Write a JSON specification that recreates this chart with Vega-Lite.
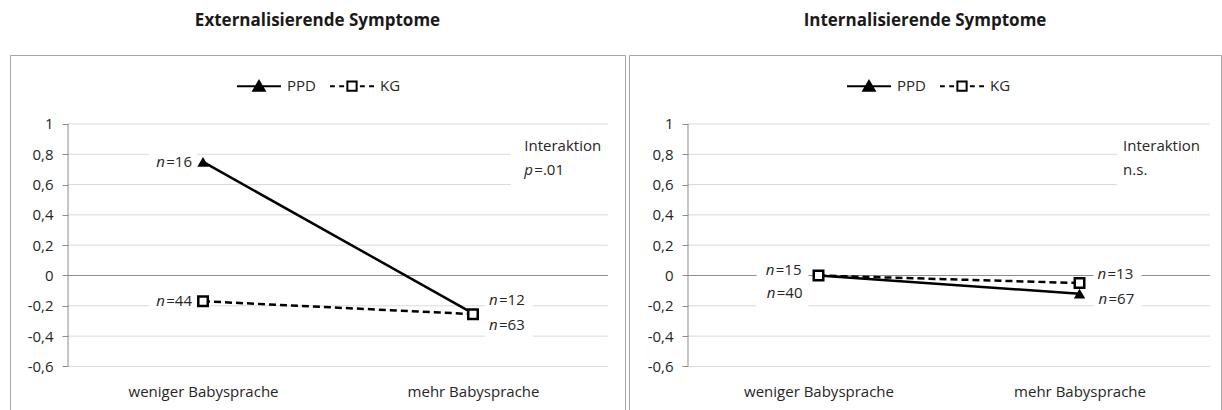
{
  "$schema": "https://vega.github.io/schema/vega-lite/v6.json",
  "background": "white",
  "padding": {"left": 9, "top": 11, "right": 0, "bottom": 0},
  "spacing": 4,
  "bounds": "flush",
  "config": {
    "font": "Open Sans",
    "view": {"stroke": "#a6a6a6", "strokeWidth": 1},
    "title": {"fontSize": 17, "fontWeight": "bold", "color": "#1a1a1a", "anchor": "middle", "offset": 25, "font": "Open Sans"},
    "axis": {"labelFont": "Open Sans", "labelFontSize": 15, "labelColor": "#262626"},
    "text": {"font": "Open Sans", "fontSize": 15, "color": "#262626"}
  },
  "datasets": {
    "ext": [
      {"grp": "PPD", "cat": 1, "value": 0.75, "lab": "=16"},
      {"grp": "PPD", "cat": 2, "value": -0.25, "lab": "=12"},
      {"grp": "KG", "cat": 1, "value": -0.17, "lab": "=44"},
      {"grp": "KG", "cat": 2, "value": -0.255, "lab": "=63"}
    ],
    "int": [
      {"grp": "PPD", "cat": 1, "value": 0.0, "lab": "=15"},
      {"grp": "PPD", "cat": 2, "value": -0.12, "lab": "=13"},
      {"grp": "KG", "cat": 1, "value": 0.0, "lab": "=40"},
      {"grp": "KG", "cat": 2, "value": -0.05, "lab": "=67"}
    ],
    "grid": [
      {"value": 1}, {"value": 0.8}, {"value": 0.6}, {"value": 0.4},
      {"value": 0.2}, {"value": -0.2}, {"value": -0.4}, {"value": -0.6}
    ]
  },
  "resolve": {
    "scale": {"x": "independent", "y": "independent", "shape": "independent", "fill": "independent"},
    "legend": {"shape": "independent", "fill": "independent"}
  },
  "hconcat": [
    {
      "title": "Externalisierende Symptome",
      "width": 615,
      "height": 359,
      "layer": [
        {"data": {"name": "grid"}, "mark": {"type": "rule", "color": "#d9d9d9", "strokeWidth": 1},
          "encoding": {"y": {"field": "value", "type": "quantitative", "title": null, "scale": {"domain": [-0.914, 1.455], "nice": false, "zero": false}}, "x": {"datum": 0.5, "title": null, "scale": {"domain": [0.285, 2.563], "nice": false, "zero": false}}, "x2": {"datum": 2.5}}},
        {"data": {"values": [{}]}, "mark": {"type": "rule", "color": "#8c8c8c", "strokeWidth": 1},
          "encoding": {"y": {"datum": 0, "title": null, "scale": {"domain": [-0.914, 1.455], "nice": false, "zero": false}}, "x": {"datum": 0.5, "title": null, "scale": {"domain": [0.285, 2.563], "nice": false, "zero": false}}, "x2": {"datum": 2.5}}},
        {"data": {"values": [{}]}, "mark": {"type": "rule", "color": "#8c8c8c", "strokeWidth": 1},
          "encoding": {"x": {"datum": 0.5, "title": null, "scale": {"domain": [0.285, 2.563], "nice": false, "zero": false}}, "y": {"datum": -0.6, "title": null, "scale": {"domain": [-0.914, 1.455], "nice": false, "zero": false}}, "y2": {"datum": 1}}},
        {"data": {"values": [{}]}, "mark": {"type": "rect", "fill": "white"},
          "encoding": {"x": {"datum": 2.14, "title": null, "scale": {"domain": [0.285, 2.563], "nice": false, "zero": false}}, "x2": {"datum": 2.5}, "y": {"datum": 0.5, "title": null, "scale": {"domain": [-0.914, 1.455], "nice": false, "zero": false}}, "y2": {"datum": 0.93}}},
        {"data": {"values": [{}]}, "mark": {"type": "text", "align": "left", "baseline": "alphabetic", "text": "Interaktion"},
          "encoding": {"x": {"datum": 2.19, "title": null, "scale": {"domain": [0.285, 2.563], "nice": false, "zero": false}}, "y": {"datum": 0.82, "title": null, "scale": {"domain": [-0.914, 1.455], "nice": false, "zero": false}}}},
        {"data": {"values": [{}]}, "mark": {"type": "text", "align": "left", "baseline": "alphabetic", "fontStyle": "italic", "text": "p"},
          "encoding": {"x": {"datum": 2.19, "title": null, "scale": {"domain": [0.285, 2.563], "nice": false, "zero": false}}, "y": {"datum": 0.665, "title": null, "scale": {"domain": [-0.914, 1.455], "nice": false, "zero": false}}}},
        {"data": {"values": [{}]}, "mark": {"type": "text", "align": "left", "baseline": "alphabetic", "dx": 10, "text": "=.01"},
          "encoding": {"x": {"datum": 2.19, "title": null, "scale": {"domain": [0.285, 2.563], "nice": false, "zero": false}}, "y": {"datum": 0.665, "title": null, "scale": {"domain": [-0.914, 1.455], "nice": false, "zero": false}}}},
        {
          "data": {"name": "ext"},
          "encoding": {
            "x": {"field": "cat", "type": "quantitative", "title": null,
              "scale": {"domain": [0.285, 2.563], "nice": false, "zero": false},
              "axis": {"orient": "bottom", "offset": -30, "values": [1, 2], "labelExpr": "datum.value == 1 ? 'weniger Babysprache' : 'mehr Babysprache'", "domain": false, "ticks": false, "grid": false, "labelPadding": 0, "labelFlush": false, "labelOverlap": false, "title": null}},
            "y": {"field": "value", "type": "quantitative", "title": null,
              "scale": {"domain": [-0.914, 1.455], "nice": false, "zero": false},
              "axis": {"orient": "left", "offset": -58, "values": [-0.6, -0.4, -0.2, 0, 0.2, 0.4, 0.6, 0.8, 1], "domain": false, "grid": false, "ticks": true, "tickSize": 6, "tickColor": "#8c8c8c", "labelPadding": 9, "labelOverlap": false, "labelExpr": "replace(replace(format(datum.value, '.1~f'), '.', ','), '\u2212', '-')", "title": null}}
          },
          "layer": [
            {"transform": [{"filter": "datum.cat == 1"}], "mark": {"type": "point", "filled": true, "color": "white", "opacity": 1, "strokeWidth": 0, "size": 10000, "shape": "M-1.08,-0.22H-0.12V0.22H-1.08Z"}},
            {"transform": [{"filter": "datum.cat == 2 && datum.grp == 'PPD'"}], "mark": {"type": "point", "filled": true, "color": "white", "opacity": 1, "strokeWidth": 0, "size": 10000, "shape": "M0.24,-0.48H1.2V-0.04H0.24Z"}},
            {"transform": [{"filter": "datum.cat == 2 && datum.grp == 'KG'"}], "mark": {"type": "point", "filled": true, "color": "white", "opacity": 1, "strokeWidth": 0, "size": 10000, "shape": "M0.24,0.02H1.2V0.48H0.24Z"}},
            {"transform": [{"filter": "datum.grp == 'PPD'"}], "mark": {"type": "line", "color": "black", "strokeWidth": 2.5}},
            {"transform": [{"filter": "datum.grp == 'KG'"}], "mark": {"type": "line", "color": "black", "strokeWidth": 2.5, "strokeDash": [7, 4]}},
            {"transform": [{"filter": "datum.grp == 'PPD'"}], "mark": {"type": "point", "shape": "triangle-up", "filled": true, "color": "black", "size": 130, "opacity": 1}},
            {"transform": [{"filter": "datum.grp == 'KG'"}], "mark": {"type": "point", "shape": "square", "filled": false, "fill": "white", "stroke": "black", "strokeWidth": 2.5, "size": 90, "opacity": 1}},
            {"mark": {"type": "point", "filled": true, "opacity": 0},
              "encoding": {
                "shape": {"field": "grp", "type": "nominal", "scale": {"domain": ["PPD", "KG"], "range": ["M-1,0H1M0,-0.24L0.26,0.2L-0.26,0.2Z", "M-1,0H-0.78M-0.58,0H-0.36M0.36,0H0.58M0.78,0H1M-0.21,-0.21H0.21V0.21H-0.21Z"]},
                  "legend": {"orient": "none", "legendX": 226, "legendY": 8, "direction": "horizontal", "title": null, "symbolSize": 1936, "symbolStrokeWidth": 2, "symbolStrokeColor": "black", "symbolOpacity": 1, "labelFontSize": 15, "labelFont": "Open Sans", "labelColor": "#262626", "labelOffset": 5, "columnPadding": 10,
                    "encode": {"symbols": {"update": {"stroke": {"value": "black"}, "strokeWidth": {"value": 2}, "opacity": {"value": 1}}}}}},
                "fill": {"field": "grp", "type": "nominal", "scale": {"domain": ["PPD", "KG"], "range": ["black", "white"]},
                  "legend": {"orient": "none", "legendX": 226, "legendY": 8, "direction": "horizontal", "title": null, "symbolSize": 1936, "symbolStrokeWidth": 2, "symbolStrokeColor": "black", "symbolOpacity": 1, "labelFontSize": 15, "labelFont": "Open Sans", "labelColor": "#262626", "labelOffset": 5, "columnPadding": 10,
                    "encode": {"symbols": {"update": {"stroke": {"value": "black"}, "strokeWidth": {"value": 2}, "opacity": {"value": 1}}}}}}
              }},
            {"transform": [{"filter": "datum.cat == 1"}], "mark": {"type": "text", "align": "right", "baseline": "middle", "dx": -11}, "encoding": {"text": {"field": "lab"}}},
            {"transform": [{"filter": "datum.cat == 1"}], "mark": {"type": "text", "align": "right", "baseline": "middle", "dx": -38, "fontStyle": "italic", "text": "n"}},
            {"transform": [{"filter": "datum.cat == 2 && datum.grp == 'PPD'"}], "mark": {"type": "text", "align": "left", "baseline": "middle", "dx": 26, "dy": -13}, "encoding": {"text": {"field": "lab"}}},
            {"transform": [{"filter": "datum.cat == 2 && datum.grp == 'PPD'"}], "mark": {"type": "text", "align": "left", "baseline": "middle", "dx": 16, "dy": -13, "fontStyle": "italic", "text": "n"}},
            {"transform": [{"filter": "datum.cat == 2 && datum.grp == 'KG'"}], "mark": {"type": "text", "align": "left", "baseline": "middle", "dx": 26, "dy": 11}, "encoding": {"text": {"field": "lab"}}},
            {"transform": [{"filter": "datum.cat == 2 && datum.grp == 'KG'"}], "mark": {"type": "text", "align": "left", "baseline": "middle", "dx": 16, "dy": 11, "fontStyle": "italic", "text": "n"}}
          ]
        }
      ]
    },
    {
      "title": "Internalisierende Symptome",
      "width": 592,
      "height": 359,
      "layer": [
        {"data": {"name": "grid"}, "mark": {"type": "rule", "color": "#d9d9d9", "strokeWidth": 1},
          "encoding": {"y": {"field": "value", "type": "quantitative", "title": null, "scale": {"domain": [-0.914, 1.455], "nice": false, "zero": false}}, "x": {"datum": 0.5, "title": null, "scale": {"domain": [0.274, 2.542], "nice": false, "zero": false}}, "x2": {"datum": 2.5}}},
        {"data": {"values": [{}]}, "mark": {"type": "rule", "color": "#8c8c8c", "strokeWidth": 1},
          "encoding": {"y": {"datum": 0, "title": null, "scale": {"domain": [-0.914, 1.455], "nice": false, "zero": false}}, "x": {"datum": 0.5, "title": null, "scale": {"domain": [0.274, 2.542], "nice": false, "zero": false}}, "x2": {"datum": 2.5}}},
        {"data": {"values": [{}]}, "mark": {"type": "rule", "color": "#8c8c8c", "strokeWidth": 1},
          "encoding": {"x": {"datum": 0.5, "title": null, "scale": {"domain": [0.274, 2.542], "nice": false, "zero": false}}, "y": {"datum": -0.6, "title": null, "scale": {"domain": [-0.914, 1.455], "nice": false, "zero": false}}, "y2": {"datum": 1}}},
        {"data": {"values": [{}]}, "mark": {"type": "rect", "fill": "white"},
          "encoding": {"x": {"datum": 2.144, "title": null, "scale": {"domain": [0.274, 2.542], "nice": false, "zero": false}}, "x2": {"datum": 2.5}, "y": {"datum": 0.5, "title": null, "scale": {"domain": [-0.914, 1.455], "nice": false, "zero": false}}, "y2": {"datum": 0.93}}},
        {"data": {"values": [{}]}, "mark": {"type": "text", "align": "left", "baseline": "alphabetic", "text": "Interaktion"},
          "encoding": {"x": {"datum": 2.167, "title": null, "scale": {"domain": [0.274, 2.542], "nice": false, "zero": false}}, "y": {"datum": 0.82, "title": null, "scale": {"domain": [-0.914, 1.455], "nice": false, "zero": false}}}},
        {"data": {"values": [{}]}, "mark": {"type": "text", "align": "left", "baseline": "alphabetic", "text": "n.s."},
          "encoding": {"x": {"datum": 2.167, "title": null, "scale": {"domain": [0.274, 2.542], "nice": false, "zero": false}}, "y": {"datum": 0.665, "title": null, "scale": {"domain": [-0.914, 1.455], "nice": false, "zero": false}}}},
        {
          "data": {"name": "int"},
          "encoding": {
            "x": {"field": "cat", "type": "quantitative", "title": null,
              "scale": {"domain": [0.274, 2.542], "nice": false, "zero": false},
              "axis": {"orient": "bottom", "offset": -30, "values": [1, 2], "labelExpr": "datum.value == 1 ? 'weniger Babysprache' : 'mehr Babysprache'", "domain": false, "ticks": false, "grid": false, "labelPadding": 0, "labelFlush": false, "labelOverlap": false, "title": null}},
            "y": {"field": "value", "type": "quantitative", "title": null,
              "scale": {"domain": [-0.914, 1.455], "nice": false, "zero": false},
              "axis": {"orient": "left", "offset": -59, "values": [-0.6, -0.4, -0.2, 0, 0.2, 0.4, 0.6, 0.8, 1], "domain": false, "grid": false, "ticks": true, "tickSize": 6, "tickColor": "#8c8c8c", "labelPadding": 9, "labelOverlap": false, "labelExpr": "replace(replace(format(datum.value, '.1~f'), '.', ','), '\u2212', '-')", "title": null}}
          },
          "layer": [
            {"transform": [{"filter": "datum.cat == 1 && datum.grp == 'PPD'"}], "mark": {"type": "point", "filled": true, "color": "white", "opacity": 1, "strokeWidth": 0, "size": 10000, "shape": "M-1.24,-0.34H-0.2V0.1H-1.24Z"}},
            {"transform": [{"filter": "datum.cat == 1 && datum.grp == 'KG'"}], "mark": {"type": "point", "filled": true, "color": "white", "opacity": 1, "strokeWidth": 0, "size": 10000, "shape": "M-1.24,0.12H-0.2V0.66H-1.24Z"}},
            {"transform": [{"filter": "datum.cat == 2 && datum.grp == 'PPD'"}], "mark": {"type": "point", "filled": true, "color": "white", "opacity": 1, "strokeWidth": 0, "size": 10000, "shape": "M0.28,-0.62H1.24V-0.18H0.28Z"}},
            {"transform": [{"filter": "datum.cat == 2 && datum.grp == 'KG'"}], "mark": {"type": "point", "filled": true, "color": "white", "opacity": 1, "strokeWidth": 0, "size": 10000, "shape": "M0.28,0.1H1.24V0.58H0.28Z"}},
            {"transform": [{"filter": "datum.grp == 'PPD'"}], "mark": {"type": "line", "color": "black", "strokeWidth": 2.5}},
            {"transform": [{"filter": "datum.grp == 'KG'"}], "mark": {"type": "line", "color": "black", "strokeWidth": 2.5, "strokeDash": [7, 4]}},
            {"transform": [{"filter": "datum.grp == 'PPD'"}], "mark": {"type": "point", "shape": "triangle-up", "filled": true, "color": "black", "size": 130, "opacity": 1}},
            {"transform": [{"filter": "datum.grp == 'KG'"}], "mark": {"type": "point", "shape": "square", "filled": false, "fill": "white", "stroke": "black", "strokeWidth": 2.5, "size": 90, "opacity": 1}},
            {"mark": {"type": "point", "filled": true, "opacity": 0},
              "encoding": {
                "shape": {"field": "grp", "type": "nominal", "scale": {"domain": ["PPD", "KG"], "range": ["M-1,0H1M0,-0.24L0.26,0.2L-0.26,0.2Z", "M-1,0H-0.78M-0.58,0H-0.36M0.36,0H0.58M0.78,0H1M-0.21,-0.21H0.21V0.21H-0.21Z"]},
                  "legend": {"orient": "none", "legendX": 217, "legendY": 8, "direction": "horizontal", "title": null, "symbolSize": 1936, "symbolStrokeWidth": 2, "symbolStrokeColor": "black", "symbolOpacity": 1, "labelFontSize": 15, "labelFont": "Open Sans", "labelColor": "#262626", "labelOffset": 5, "columnPadding": 10,
                    "encode": {"symbols": {"update": {"stroke": {"value": "black"}, "strokeWidth": {"value": 2}, "opacity": {"value": 1}}}}}},
                "fill": {"field": "grp", "type": "nominal", "scale": {"domain": ["PPD", "KG"], "range": ["black", "white"]},
                  "legend": {"orient": "none", "legendX": 217, "legendY": 8, "direction": "horizontal", "title": null, "symbolSize": 1936, "symbolStrokeWidth": 2, "symbolStrokeColor": "black", "symbolOpacity": 1, "labelFontSize": 15, "labelFont": "Open Sans", "labelColor": "#262626", "labelOffset": 5, "columnPadding": 10,
                    "encode": {"symbols": {"update": {"stroke": {"value": "black"}, "strokeWidth": {"value": 2}, "opacity": {"value": 1}}}}}}
              }},
            {"transform": [{"filter": "datum.cat == 1 && datum.grp == 'PPD'"}], "mark": {"type": "text", "align": "right", "baseline": "middle", "dx": -17, "dy": -5}, "encoding": {"text": {"field": "lab"}}},
            {"transform": [{"filter": "datum.cat == 1 && datum.grp == 'PPD'"}], "mark": {"type": "text", "align": "right", "baseline": "middle", "dx": -44, "dy": -5, "fontStyle": "italic", "text": "n"}},
            {"transform": [{"filter": "datum.cat == 1 && datum.grp == 'KG'"}], "mark": {"type": "text", "align": "right", "baseline": "middle", "dx": -16, "dy": 18}, "encoding": {"text": {"field": "lab"}}},
            {"transform": [{"filter": "datum.cat == 1 && datum.grp == 'KG'"}], "mark": {"type": "text", "align": "right", "baseline": "middle", "dx": -43, "dy": 18, "fontStyle": "italic", "text": "n"}},
            {"transform": [{"filter": "datum.cat == 2 && datum.grp == 'PPD'"}], "mark": {"type": "text", "align": "left", "baseline": "middle", "dx": 28, "dy": -20}, "encoding": {"text": {"field": "lab"}}},
            {"transform": [{"filter": "datum.cat == 2 && datum.grp == 'PPD'"}], "mark": {"type": "text", "align": "left", "baseline": "middle", "dx": 18, "dy": -20, "fontStyle": "italic", "text": "n"}},
            {"transform": [{"filter": "datum.cat == 2 && datum.grp == 'KG'"}], "mark": {"type": "text", "align": "left", "baseline": "middle", "dx": 29, "dy": 16}, "encoding": {"text": {"field": "lab"}}},
            {"transform": [{"filter": "datum.cat == 2 && datum.grp == 'KG'"}], "mark": {"type": "text", "align": "left", "baseline": "middle", "dx": 19, "dy": 16, "fontStyle": "italic", "text": "n"}}
          ]
        }
      ]
    }
  ]
}
